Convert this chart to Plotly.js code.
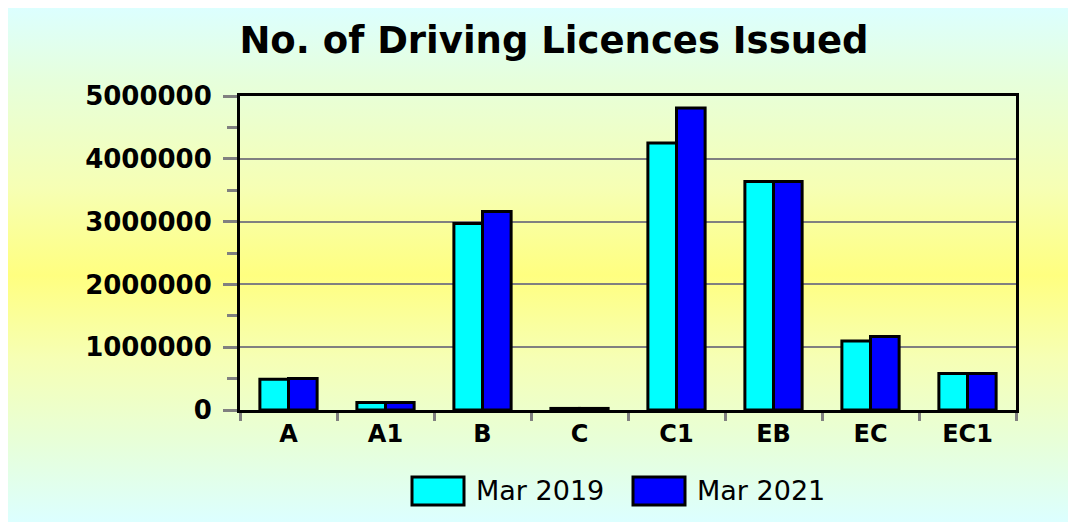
<!DOCTYPE html>
<html>
<head>
<meta charset="utf-8">
<script src="https://cdn.plot.ly/plotly-3.0.1.min.js"></script>
<style>
  html, body { margin: 0; padding: 0; background: #ffffff; }
  #bg { position: absolute; left: 8px; top: 8px; width: 1060px; height: 514px;
        background: linear-gradient(to bottom, #dcffff 0%, #e6ffdc 14%, #f6ffb4 35%, #ffff80 52%, #f6ffb4 68%, #e6ffdc 86%, #dcffff 100%); }
  #chart { position: absolute; left: 0; top: 0; width: 1068px; height: 522px; }
</style>
</head>
<body>
<div id="bg"></div>
<div id="chart"></div>
<script>
const categories = ["A", "A1", "B", "C", "C1", "EB", "EC", "EC1"];
const seriesNames = ["Mar 2019", "Mar 2021"];
const mar2019 = [490000, 120000, 2970000, 25000, 4250000, 3640000, 1100000, 580000];
const mar2021 = [500000, 120000, 3160000, 25000, 4810000, 3640000, 1170000, 580000];
const seriesColors = ["#00ffff", "#0000ff"];
const yTickVals = [0, 1000000, 2000000, 3000000, 4000000, 5000000];
const yTickText = ["0", "1000000", "2000000", "3000000", "4000000", "5000000"];
const chartTitle = "No. of Driving Licences Issued";

const seriesValues = [mar2019, mar2021];
const traces = seriesValues.map((vals, i) => ({
  type: "bar",
  name: seriesNames[i],
  x: categories,
  y: vals,
  marker: { color: seriesColors[i], line: { color: "#000000", width: 3 } },
  showlegend: false,
  hoverinfo: "x+y+name"
}));

// custom legend (large swatches) built from series names / colours
const legendShapes = [];
const legendAnnotations = [];
const swatchX = [412, 633];
seriesNames.forEach((nm, i) => {
  legendShapes.push({
    type: "rect", xref: "paper", yref: "paper",
    x0: (swatchX[i] - 240) / 776, x1: (swatchX[i] + 52 - 240) / 776,
    y0: (410 - 505) / 314, y1: (410 - 477) / 314,
    fillcolor: seriesColors[i], line: { color: "#000000", width: 3 }
  });
  legendAnnotations.push({
    text: nm, xref: "paper", yref: "paper", showarrow: false,
    x: (swatchX[i] + 62 - 240) / 776, xanchor: "left",
    y: (410 - 490) / 314, yanchor: "middle",
    font: { family: "DejaVu Sans", size: 27, color: "#000000" }
  });
});

const layout = {
  width: 1068, height: 522,
  margin: { l: 240, r: 52, t: 96, b: 112 },
  paper_bgcolor: "rgba(0,0,0,0)",
  plot_bgcolor: "rgba(0,0,0,0)",
  title: {
    text: chartTitle,
    x: 554 / 1068, xref: "container", xanchor: "center",
    y: 1 - 40 / 522, yref: "container", yanchor: "middle",
    font: { family: "DejaVu Sans", size: 37, weight: "bold", color: "#000000" }
  },
  barmode: "group",
  bargap: 0.41,
  bargroupgap: 0,
  xaxis: {
    type: "category",
    showline: true, linecolor: "#000000", linewidth: 3, mirror: true,
    ticks: "outside", tickson: "boundaries", ticklen: 8, tickwidth: 3, tickcolor: "#808080",
    showgrid: false,
    tickfont: { family: "DejaVu Sans", size: 24, weight: "bold", color: "#000000" },
    ticklabelstandoff: 0
  },
  yaxis: {
    range: [0, 5000000],
    tickvals: yTickVals, ticktext: yTickText,
    showline: true, linecolor: "#000000", linewidth: 3, mirror: true,
    ticks: "outside", ticklen: 14, tickwidth: 3, tickcolor: "#808080",
    minor: { dtick: 500000, ticks: "outside", ticklen: 10, tickwidth: 3, tickcolor: "#808080", showgrid: false },
    showgrid: true, gridcolor: "#808080", gridwidth: 2,
    zeroline: false,
    tickfont: { family: "DejaVu Sans", size: 26, weight: "bold", color: "#000000" },
    ticklabelstandoff: 6
  },
  shapes: legendShapes,
  annotations: legendAnnotations
};

Plotly.newPlot("chart", traces, layout, { displayModeBar: false, staticPlot: true });
</script>
</body>
</html>
